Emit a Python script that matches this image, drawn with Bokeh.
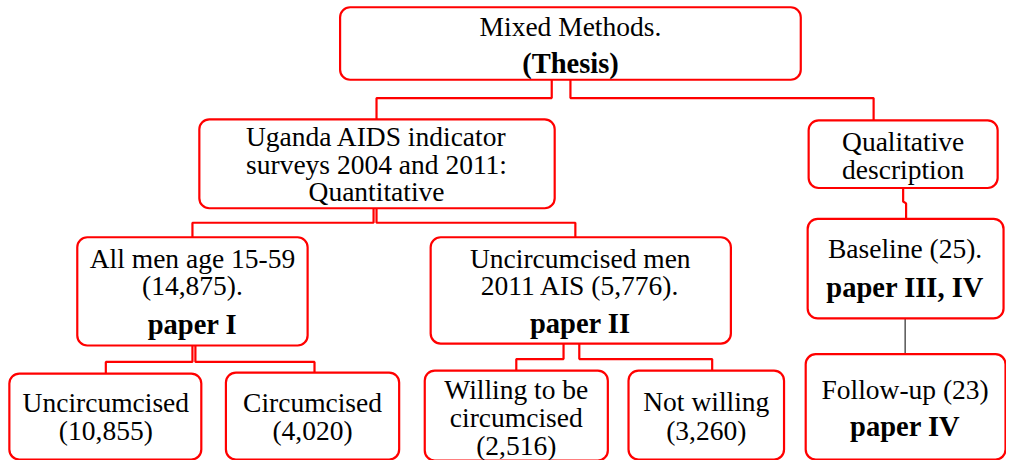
from bokeh.plotting import figure
from bokeh.models import Range1d, ColumnDataSource
from bokeh.embed import file_html
from bokeh.resources import INLINE
from bokeh.core.properties import value

# ---- content ----
node_ids = ["thesis", "quant", "qual", "allmen", "uncmen", "baseline",
            "unc", "circ", "willing", "notwilling", "followup"]
node_text = {
    "thesis": [("Mixed Methods.", "normal"), ("(Thesis)", "bold")],
    "quant": [("Uganda AIDS indicator", "normal"), ("surveys 2004 and 2011:", "normal"), ("Quantitative", "normal")],
    "qual": [("Qualitative", "normal"), ("description", "normal")],
    "allmen": [("All men age 15-59", "normal"), ("(14,875).", "normal"), ("paper I", "bold")],
    "uncmen": [("Uncircumcised men", "normal"), ("2011 AIS (5,776).", "normal"), ("paper II", "bold")],
    "baseline": [("Baseline (25).", "normal"), ("paper III, IV", "bold")],
    "unc": [("Uncircumcised", "normal"), ("(10,855)", "normal")],
    "circ": [("Circumcised", "normal"), ("(4,020)", "normal")],
    "willing": [("Willing to be", "normal"), ("circumcised", "normal"), ("(2,516)", "normal")],
    "notwilling": [("Not willing", "normal"), ("(3,260)", "normal")],
    "followup": [("Follow-up (23)", "normal"), ("paper IV", "bold")],
}

# ---- layout (reference pixel coordinates) ----
box_left = [345, 202, 821, 78, 437, 820, 9, 229, 431, 638, 818]
box_right = [813, 563, 1013, 312, 742, 1019, 204, 405, 617, 796, 1021]
box_top = [7, 123, 124, 245, 245, 226, 386, 385, 383, 383, 366]
box_bottom = [82, 215, 194, 357, 355, 329, 475, 475, 476, 475, 475]
text_cx = [579, 382, 917, 195, 589, 919, 107, 317, 524, 717, 919]
text_lines_y = {
    "thesis": [27, 65],
    "quant": [141, 170, 198],
    "qual": [146, 175],
    "allmen": [267, 295, 335],
    "uncmen": [267, 295, 334],
    "baseline": [257, 297],
    "unc": [416, 445],
    "circ": [416, 445],
    "willing": [403, 431, 460],
    "notwilling": [415, 445],
    "followup": [403, 441],
}

conn_xs = [[560, 560, 382, 382], [579, 579, 887, 887],
           [379, 379, 195, 195], [382, 382, 584, 584],
           [195, 195, 107, 107], [198, 198, 319, 319],
           [572, 572, 524, 524], [588, 588, 723, 723],
           [917, 917, 920, 920]]
conn_ys = [[82, 101, 101, 123], [82, 101, 101, 124],
           [215, 230, 230, 245], [215, 230, 230, 245],
           [357, 374, 374, 386], [357, 374, 374, 385],
           [355, 371, 371, 383], [355, 371, 371, 383],
           [194, 208, 210, 226]]
black_xs = [[919, 919]]
black_ys = [[329, 366]]

RED = "#ff0000"
FONT = "Liberation Serif"

W, H = 1006, 460
p = figure(width=W, height=H, x_range=Range1d(0, 1022), y_range=Range1d(476, 0),
           output_backend="svg", toolbar_location=None, min_border=0)
p.axis.visible = False
p.grid.visible = False
p.outline_line_color = None
p.background_fill_color = "white"
p.border_fill_color = "white"

p.multi_line(xs=conn_xs, ys=conn_ys, line_color=RED, line_width=2.2)
p.multi_line(xs=black_xs, ys=black_ys, line_color="black", line_width=1)

p.quad(left=box_left, right=box_right, top=box_top, bottom=box_bottom,
       fill_color="white", line_color=RED, line_width=2.2, border_radius=10)

tx, ty, tt, ts, fs = [], [], [], [], []
for i, nid in enumerate(node_ids):
    for (txt, style), yy in zip(node_text[nid], text_lines_y[nid]):
        tx.append(text_cx[i]); ty.append(yy); tt.append(txt); ts.append(style)
        fs.append("28.5px" if style == "bold" else "27.5px")
src = ColumnDataSource(dict(x=tx, y=ty, text=tt, style=ts, fs=fs))
p.text(x="x", y="y", text="text", source=src, text_font=value(FONT),
       text_font_style="style", text_font_size="fs", text_align="center",
       text_baseline="middle", text_color="black")

open("out.html", "w").write(file_html(p, INLINE))
